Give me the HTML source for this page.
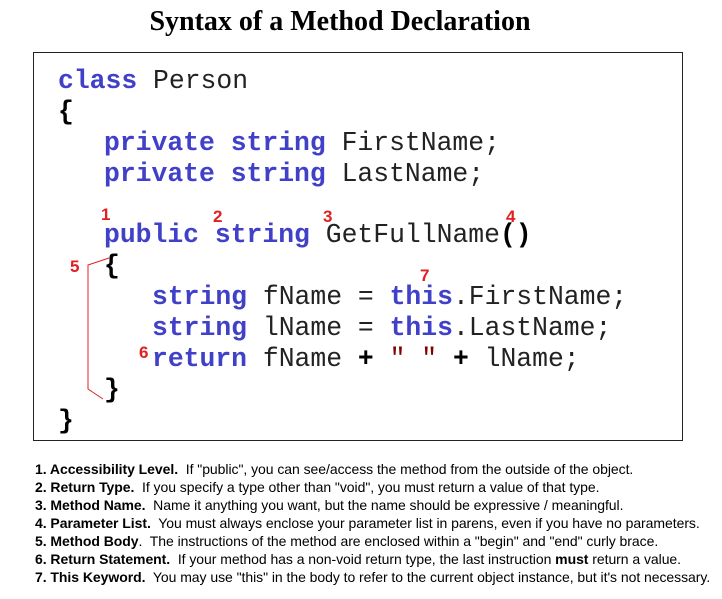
<!DOCTYPE html>
<html><head><meta charset="utf-8"><style>
body{margin:0;width:722px;height:599px;background:#fff;position:relative;overflow:hidden}
.t{position:absolute;left:0;width:680px;text-align:center;top:6px;font:bold 28px "Liberation Serif",serif;color:#000}
.box{position:absolute;left:33px;top:52px;width:648px;height:387px;border:1.5px solid #222}
.c{position:absolute;font:26.4px/30px "Liberation Mono",monospace;color:#222;white-space:pre}
.k{color:#4040c8;font-weight:bold}
.b{font-weight:bold;color:#000}
.q{color:#800000}
.n{position:absolute;font:bold 17px "Liberation Sans",sans-serif;color:#e02020}
.notes{position:absolute;left:35px;top:460px;font:14px/18px "Liberation Sans",sans-serif;color:#000;white-space:nowrap;letter-spacing:-0.05px}
</style></head><body>
<div class="t">Syntax of a Method Declaration</div>
<div class="box"></div>
<div class="c" style="left:58px;top:66px"><span class="k">class</span> Person</div>
<div class="c" style="left:58px;top:97px"><span class="b">{</span></div>
<div class="c" style="left:104px;top:128px"><span class="k">private</span> <span class="k">string</span> FirstName;</div>
<div class="c" style="left:104px;top:159px"><span class="k">private</span> <span class="k">string</span> LastName;</div>
<div class="c" style="left:104px;top:220px"><span class="k">public</span> <span class="k">string</span> GetFullName<span class="b">()</span></div>
<div class="c" style="left:104px;top:251px"><span class="b">{</span></div>
<div class="c" style="left:152px;top:282px"><span class="k">string</span> fName = <span class="k">this</span>.FirstName;</div>
<div class="c" style="left:152px;top:313px"><span class="k">string</span> lName = <span class="k">this</span>.LastName;</div>
<div class="c" style="left:152px;top:344px"><span class="k">return</span> fName <span class="b">+</span> <span class="q">" "</span> <span class="b">+</span> lName;</div>
<div class="c" style="left:104px;top:375px"><span class="b">}</span></div>
<div class="c" style="left:58px;top:406px"><span class="b">}</span></div>
<div class="n" style="left:101px;top:205px">1</div>
<div class="n" style="left:213px;top:207px">2</div>
<div class="n" style="left:323px;top:207px">3</div>
<div class="n" style="left:506px;top:207px">4</div>
<div class="n" style="left:70px;top:257px">5</div>
<div class="n" style="left:139px;top:343px">6</div>
<div class="n" style="left:420px;top:266px">7</div>
<svg style="position:absolute;left:0;top:0" width="722" height="599"><polyline points="109,258 88,265 88,389 103,399" fill="none" stroke="#e02020" stroke-width="1"/></svg>
<div class="notes">
<b>1. Accessibility Level.</b>&nbsp; If "public", you can see/access the method from the outside of the object.<br>
<b>2. Return Type.</b>&nbsp; If you specify a type other than "void", you must return a value of that type.<br>
<b>3. Method Name.</b>&nbsp; Name it anything you want, but the name should be expressive / meaningful.<br>
<b>4. Parameter List.</b>&nbsp; You must always enclose your parameter list in parens, even if you have no parameters.<br>
<b>5. Method Body</b>.&nbsp; The instructions of the method are enclosed within a "begin" and "end" curly brace.<br>
<b>6. Return Statement.</b>&nbsp; If your method has a non-void return type, the last instruction <b>must</b> return a value.<br>
<b>7. This Keyword.</b>&nbsp; You may use "this" in the body to refer to the current object instance, but it's not necessary.
</div>
</body></html>
